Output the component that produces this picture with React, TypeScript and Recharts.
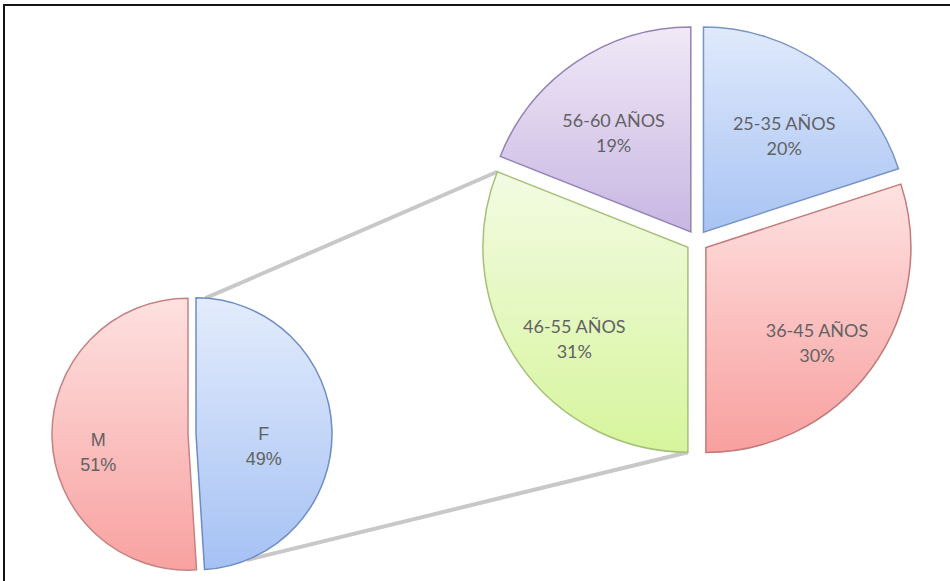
import React from "react";
import { PieChart, Pie, Cell, Sector } from "recharts";

// primary pie (sex) and secondary pie (age groups of F)
const sexLabels = ["F", "M"];
const sexShares = [49, 51];
const ageLabels = ["25-35 AÑOS", "36-45 AÑOS", "46-55 AÑOS", "56-60 AÑOS"];
const ageShares = [20, 30, 31, 19];

const sexColors = [
  { id: "gF", top: "#e3ecfc", bottom: "#a5c1f4", stroke: "#6f8cc3" },
  { id: "gM", top: "#fde1e0", bottom: "#f8a2a1", stroke: "#c68282" },
];
const ageColors = [
  { id: "gA1", top: "#e0eafc", bottom: "#a8c3f3", stroke: "#7893c6" },
  { id: "gA2", top: "#fde2e1", bottom: "#f8a09f", stroke: "#c27a7a" },
  { id: "gA3", top: "#f3fbe3", bottom: "#d6f59c", stroke: "#a6c079" },
  { id: "gA4", top: "#f0e9f7", bottom: "#c8b6e2", stroke: "#9382b6" },
];

const sexData = sexLabels.map((name, i) => ({ name, value: sexShares[i] }));
const ageData = ageLabels.map((name, i) => ({ name, value: ageShares[i] }));

const W = 950;
const H = 581;
const small = { cx: 192, cy: 434, r: 136, off: 4 };
const big = { cx: 697, cy: 241, r: 205, off: 11 };
const RAD = Math.PI / 180;

const polar = (cx: number, cy: number, r: number, a: number) => ({
  x: cx + r * Math.cos(-a * RAD),
  y: cy + r * Math.sin(-a * RAD),
});

const explode = (offset: number) => (props: any) => {
  const { cx, cy, midAngle } = props;
  const p = polar(cx, cy, offset, midAngle);
  return <Sector {...props} cx={p.x} cy={p.y} />;
};

const makeLabel =
  (offset: number, factor: number, font: string, size: number, dx: number, dy: number) =>
  (props: any) => {
    const { cx, cy, midAngle, outerRadius, index } = props;
    const name = props.payload?.name ?? props.name;
    const value = props.payload?.value ?? props.value;
    const c = polar(cx, cy, offset, midAngle);
    const p = polar(c.x, c.y, outerRadius * factor, midAngle);
    const x = p.x + dx;
    const y = p.y + dy;
    return (
      <text
        key={`lbl-${index}`}
        textAnchor="middle"
        fill="#626262"
        fontFamily={font}
        fontSize={size}
      >
        <tspan x={x} y={y - 6}>{name}</tspan>
        <tspan x={x} y={y + 19}>{value}%</tspan>
      </text>
    );
  };

// angles of the linked secondary slice (46-55), from the data
const total = ageShares.reduce((a, b) => a + b, 0);
const before = ageShares.slice(0, 2).reduce((a, b) => a + b, 0);
const greenStart = 90 - (360 * before) / total;
const greenEnd = 90 - (360 * (before + ageShares[2])) / total;
const greenMid = (greenStart + greenEnd) / 2;
const fMid = 90 - (360 * sexShares[0]) / (2 * (sexShares[0] + sexShares[1]));

export default function App() {
  const gc = polar(big.cx, big.cy, big.off, greenMid);
  const fc = polar(small.cx, small.cy, small.off, fMid);
  const topA = polar(fc.x, fc.y, small.r, 86);
  const botA = polar(fc.x, fc.y, small.r, -68);
  const topB = polar(gc.x, gc.y, big.r, greenEnd);
  const botB = polar(gc.x, gc.y, big.r, greenStart);

  return (
    <div
      style={{
        position: "absolute",
        left: 0,
        top: 0,
        width: W,
        height: H,
        background: "#fff",
        overflow: "hidden",
      }}
    >
      <div
        style={{
          position: "absolute",
          left: 3,
          top: 4,
          width: W,
          height: H,
          borderLeft: "2px solid #151515",
          borderTop: "2px solid #151515",
        }}
      />
      <PieChart width={W} height={H} margin={{ top: 0, right: 0, bottom: 0, left: 0 }}>
        <defs>
          {[...sexColors, ...ageColors].map((c) => (
            <linearGradient key={c.id} id={c.id} x1="0" y1="0" x2="0" y2="1">
              <stop offset="0%" stopColor={c.top} />
              <stop offset="100%" stopColor={c.bottom} />
            </linearGradient>
          ))}
        </defs>
        <g>
          <line x1={topA.x} y1={topA.y} x2={topB.x} y2={topB.y} stroke="#c8c8c8" strokeWidth={4} />
          <line x1={botA.x} y1={botA.y} x2={botB.x} y2={botB.y} stroke="#c8c8c8" strokeWidth={4} />
        </g>
        <Pie
          data={sexData}
          dataKey="value"
          nameKey="name"
          cx={small.cx}
          cy={small.cy}
          outerRadius={small.r}
          startAngle={90}
          endAngle={-270}
          isAnimationActive={false}
          shape={explode(small.off)}
          label={makeLabel(small.off, 0.58, "'Liberation Sans', Arial, sans-serif", 18, -11, 15)}
          labelLine={false}
        >
          {sexColors.map((c) => (
            <Cell key={c.id} fill={`url(#${c.id})`} stroke={c.stroke} strokeWidth={1.5} />
          ))}
        </Pie>
        <Pie
          data={ageData}
          dataKey="value"
          nameKey="name"
          cx={big.cx}
          cy={big.cy}
          outerRadius={big.r}
          startAngle={90}
          endAngle={-270}
          isAnimationActive={false}
          shape={explode(big.off)}
          label={makeLabel(big.off, 0.67, "Lato, 'Open Sans', sans-serif", 18, 0, 15)}
          labelLine={false}
        >
          {ageColors.map((c) => (
            <Cell key={c.id} fill={`url(#${c.id})`} stroke={c.stroke} strokeWidth={1.5} />
          ))}
        </Pie>
      </PieChart>
    </div>
  );
}
